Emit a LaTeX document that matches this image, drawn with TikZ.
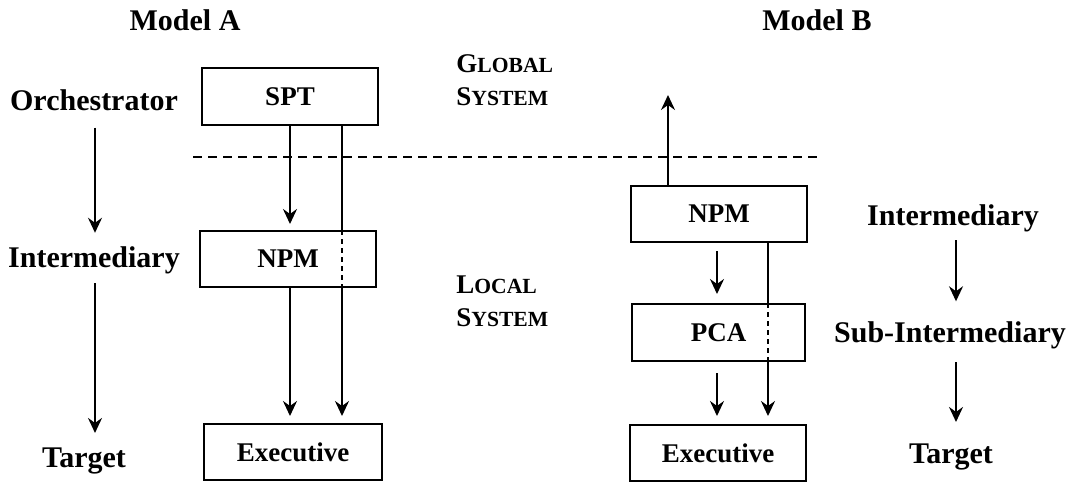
\documentclass[tikz,border=0pt]{standalone}
\usepackage{fontspec}
\setmainfont{Liberation Serif}
\usetikzlibrary{arrows.meta,calc}
\newcommand{\fakesc}[2]{{\fontsize{13.5}{13.5}\selectfont #1}{\fontsize{10.8}{10.8}\selectfont #2}}
\begin{document}
\begin{tikzpicture}[x=0.5pt,y=-0.5pt,
  lbl/.style={font=\fontsize{15}{18}\selectfont\bfseries, inner sep=0pt, anchor=base},
  sys/.style={font=\bfseries, inner sep=0pt, anchor=base west},
  box/.style={draw, line width=1pt, font=\fontsize{13.5}{16}\selectfont\bfseries, inner sep=0pt, minimum height=28pt},
  arr/.style={line width=1pt, -{Stealth[length=7.5pt,width=7pt,inset=2.5pt]}},
  ln/.style={line width=1pt},
  sep/.style={line width=0.8pt, dash pattern=on 4.5pt off 3pt},
  inner/.style={line width=1pt, dash pattern=on 2.5pt off 2pt}]
\useasboundingbox (0,0) rectangle (1071,483);

% titles and level labels
\node[lbl] (mA) at (185,30) {Model A};
\node[lbl] (mB) at (817,30) {Model B};
\node[lbl] (orch) at (94,110) {Orchestrator};
\node[lbl] (intL) at (94,267) {Intermediary};
\node[lbl] (tgtL) at (84,467) {Target};
\node[lbl] (intR) at (953,225) {Intermediary};
\node[lbl] (sub) at (950,342) {Sub-Intermediary};
\node[lbl] (tgtR) at (951,463) {Target};

\node[sys] (g1) at (456,72) {\fakesc{G}{LOBAL}};
\node[sys] (g2) at (456,105) {\fakesc{S}{YSTEM}};
\node[sys] (l1) at (456,293) {\fakesc{L}{OCAL}};
\node[sys] (l2) at (456,326) {\fakesc{S}{YSTEM}};

% left hierarchy arrows
\draw[arr, shorten <=8.5pt, shorten >=6.5pt] (orch.south -| 95,0) -- (intL.north -| 95,0);
\draw[arr, shorten <=4.75pt, shorten >=7pt] (intL.south -| 95,0) -- (tgtL.north -| 95,0);
% right hierarchy arrows
\draw[arr, shorten <=4.25pt, shorten >=9.75pt] (intR.south -| 956,0) -- (sub.north -| 956,0);
\draw[arr, shorten <=6.75pt, shorten >=10.5pt] (sub.south -| 956,0) -- (tgtR.north -| 956,0);

% separator
\coordinate (sepL) at (193,157);
\coordinate (sepR) at (818,157);
\draw[sep] (sepL) -- (sepR);

% Model A
\node[box, minimum width=88pt, minimum height=28.5pt] (spt) at (290,96.5) {SPT};
\node[box, minimum width=88pt] (npmA) at (288,259) {NPM};
\node[box, minimum width=89pt] (execA) at (293,452) {Executive};
\coordinate (a1) at (290,0);
\coordinate (a2) at (342,0);
\draw[arr, shorten >=3pt] (spt.south -| a1) -- (npmA.north -| a1);
\draw[arr, shorten >=3.5pt] (npmA.south -| a1) -- (execA.north -| a1);
\draw[ln] (spt.south -| a2) -- (npmA.north -| a2);
\draw[inner] (npmA.north -| a2) -- (npmA.south -| a2);
\draw[arr, shorten >=3.5pt] (npmA.south -| a2) -- (execA.north -| a2);

% Model B
\node[box, minimum width=88pt] (npmB) at (719,214) {NPM};
\node[box, minimum width=86.5pt, minimum height=28.5pt] (pca) at (718.5,332.5) {PCA};
\node[box, minimum width=88pt] (execB) at (718,453) {Executive};
\coordinate (up) at (668,95);
\coordinate (b1) at (717,0);
\coordinate (b2) at (768,0);
\draw[arr] (npmB.north -| up) -- (up);
\draw[arr, shorten <=4pt, shorten >=4.5pt] (npmB.south -| b1) -- (pca.north -| b1);
\draw[arr, shorten <=5.5pt, shorten >=4pt] (pca.south -| b1) -- (execB.north -| b1);
\draw[ln] (npmB.south -| b2) -- (pca.north -| b2);
\draw[inner] (pca.north -| b2) -- (pca.south -| b2);
\draw[arr, shorten >=4pt] (pca.south -| b2) -- (execB.north -| b2);
\end{tikzpicture}
\end{document}
